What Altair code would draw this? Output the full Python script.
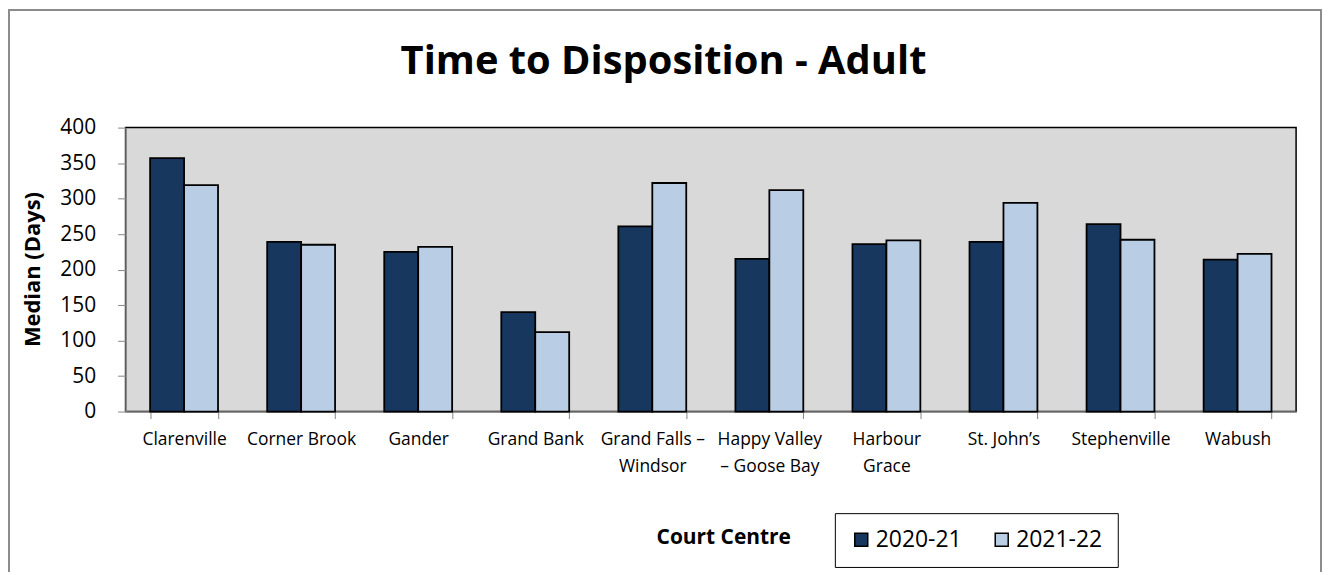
import altair as alt
import pandas as pd

chart_title = "Time to Disposition - Adult"
centres = ["Clarenville", "Corner Brook", "Gander", "Grand Bank",
           "Grand Falls – Windsor", "Happy Valley – Goose Bay",
           "Harbour Grace", "St. John’s", "Stephenville", "Wabush"]
label_lines = ["Clarenville", "Corner Brook", "Gander", "Grand Bank",
               "Grand Falls –|Windsor", "Happy Valley|– Goose Bay",
               "Harbour|Grace", "St. John’s", "Stephenville", "Wabush"]
years = ["2020-21", "2021-22"]
days_2020_21 = [357, 239, 225, 140, 261, 215, 236, 239, 264, 214]
days_2021_22 = [319, 235, 232, 112, 322, 312, 241, 294, 242, 222]
y_ticks = [0, 50, 100, 150, 200, 250, 300, 350, 400]

rows = []
for lab, a, b in zip(label_lines, days_2020_21, days_2021_22):
    rows.append({"Centre": lab, "Year": years[0], "Days": a})
    rows.append({"Centre": lab, "Year": years[1], "Days": b})
df = pd.DataFrame(rows)

W, H = 1175, 285
FONT = "Open Sans"

bars = alt.Chart(df).mark_bar(stroke="black", strokeWidth=1.8).encode(
    x=alt.X("Centre:N", sort=label_lines,
            scale=alt.Scale(paddingInner=0.42, paddingOuter=0.21),
            axis=alt.Axis(title="Court Centre", labelAngle=0,
                          labelExpr="split(datum.label, '|')",
                          labelFont=FONT, labelFontSize=17.5, labelColor="black",
                          labelLineHeight=27, labelPadding=12,
                          domainColor="#868686", domainWidth=1.5,
                          tickColor="#868686", tickSize=7, tickBand="extent",
                          titleFont=FONT, titleFontSize=21, titleFontWeight="bold",
                          titleColor="black", titleX=600, titleY=126,
                          titleBaseline="middle", titleAlign="center")),
    xOffset=alt.XOffset("Year:N", sort=years,
                        scale=alt.Scale(paddingInner=0, paddingOuter=0)),
    y=alt.Y("Days:Q", scale=alt.Scale(domain=[0, 400], nice=False),
            axis=alt.Axis(title="Median (Days)", values=y_ticks, grid=False,
                          labelFont=FONT, labelFontSize=21, labelColor="black",
                          labelPadding=22,
                          domainColor="#868686", domainWidth=1.5,
                          tickColor="#868686", tickSize=8,
                          titleFont=FONT, titleFontSize=22, titleFontWeight="bold",
                          titleColor="black", titleX=-93, titleY=142,
                          titleAngle=270, titleAlign="center",
                          titleBaseline="middle")),
    color=alt.Color("Year:N",
                    scale=alt.Scale(domain=years, range=["#17375E", "#B9CDE5"]),
                    legend=alt.Legend(title=None, orient="none", legendX=712,
                                      legendY=387, direction="horizontal",
                                      strokeColor="black", fillColor="white",
                                      padding=15, symbolType="square",
                                      symbolSize=170, symbolStrokeColor="black",
                                      symbolStrokeWidth=1.5,
                                      labelFont=FONT, labelFontSize=23,
                                      labelColor="black", columnPadding=28,
                                      labelOffset=3)),
)

frame = alt.Chart(pd.DataFrame({"f": [0]})).mark_rect(
    fillOpacity=0, stroke="#8c8c8c", strokeWidth=2
).encode(
    x=alt.value(-117), x2=alt.value(1200),
    y=alt.value(-118), y2=alt.value(600),
)

title = alt.Chart(pd.DataFrame({"t": [chart_title]})).mark_text(
    font=FONT, fontSize=40, fontWeight="bold", color="black",
    align="center", baseline="alphabetic"
).encode(
    text="t:N", x=alt.value(540), y=alt.value(-54),
)

chart = alt.layer(frame, bars, title).properties(
    width=W, height=H,
    padding={"left": 118, "top": 119, "right": 27, "bottom": 160},
    autosize=alt.AutoSizeParams(type="none"),
).configure_view(
    fill="#D9D9D9", stroke="black", strokeWidth=1.5
)

chart.save("out.html", embed_options={"renderer": "svg", "actions": False})
